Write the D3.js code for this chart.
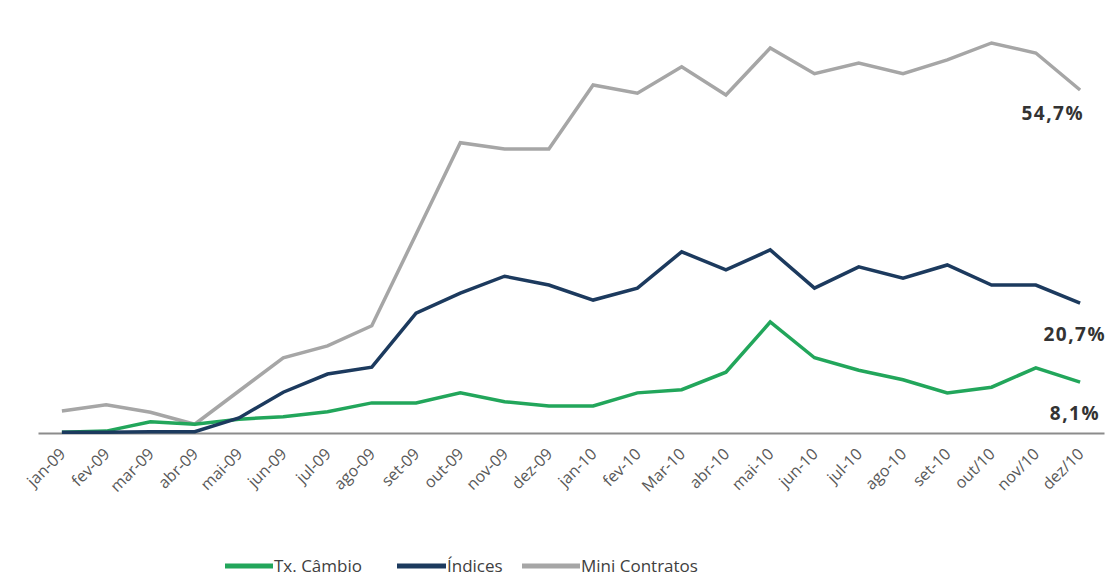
<!DOCTYPE html>
<html>
<head>
<meta charset="utf-8">
<script src="https://cdn.jsdelivr.net/npm/d3@7"></script>
<style>
  body { margin: 0; background: #ffffff; }
  svg { display: block; }
</style>
</head>
<body>
<svg id="chart" width="1107" height="580"></svg>
<script>
// Monthly share (%) of each mini-contract group, jan-09 to dez/10
const months = ["jan-09","fev-09","mar-09","abr-09","mai-09","jun-09","jul-09","ago-09","set-09","out-09","nov-09","dez-09",
                "jan-10","fev-10","Mar-10","abr-10","mai-10","jun-10","jul-10","ago-10","set-10","out/10","nov/10","dez/10"];

const txCambio = [0.1, 0.3, 1.8, 1.4, 2.2, 2.6, 3.4, 4.8, 4.8, 6.4, 5.0, 4.3,
                  4.3, 6.4, 6.9, 9.7, 17.7, 12.0, 10.0, 8.5, 6.4, 7.3, 10.4, 8.1];

const indices = [0.1, 0.1, 0.2, 0.2, 2.4, 6.5, 9.4, 10.5, 19.1, 22.3, 25.0, 23.6,
                 21.2, 23.1, 28.9, 26.0, 29.2, 23.1, 26.5, 24.7, 26.8, 23.6, 23.6, 20.7];

const miniContratos = [3.5, 4.5, 3.3, 1.4, 6.7, 12.0, 13.9, 17.1, 31.7, 46.3, 45.3, 45.3,
                       55.5, 54.2, 58.4, 53.9, 61.4, 57.3, 59.0, 57.3, 59.5, 62.2, 60.6, 54.7];

const seriesNames = ["Tx. Câmbio", "Índices", "Mini Contratos"];
const endLabels = ["8,1%", "20,7%", "54,7%"];

const colors = { "Tx. Câmbio": "#22a65b", "Índices": "#1c3a5e", "Mini Contratos": "#a6a6a6" };

// draw order: grey underneath, navy on top; dx/dy place the end label
const series = [
  { name: seriesNames[2], values: miniContratos, label: endLabels[2], dx: 4,   dy: 30 },
  { name: seriesNames[0], values: txCambio,      label: endLabels[0], dx: 20,  dy: 38 },
  { name: seriesNames[1], values: indices,       label: endLabels[1], dx: 26,  dy: 38 }
];

const svg = d3.select("#chart");

const x = d3.scalePoint().domain(months).range([38, 1104]).padding(0.54);
const y = d3.scaleLinear().domain([0, 54.7]).range([433, 90]);

// category axis along the zero line
const xAxis = svg.append("g")
  .attr("transform", `translate(0,${y(0)})`)
  .call(d3.axisBottom(x).tickSize(0).tickPadding(0));
xAxis.select(".domain").attr("stroke", "#8c8c8c").attr("stroke-width", 2);
xAxis.selectAll(".tick text")
  .attr("font-family", "'Open Sans', sans-serif")
  .attr("font-size", 16)
  .attr("fill", "#595959")
  .attr("text-anchor", "end")
  .attr("dy", null)
  .attr("y", null)
  .attr("transform", "translate(4,22) rotate(-45)");

const line = d3.line()
  .x((d, i) => x(months[i]))
  .y(d => y(d));

svg.append("g").selectAll("path")
  .data(series)
  .join("path")
  .attr("d", d => line(d.values))
  .attr("fill", "none")
  .attr("stroke", d => colors[d.name])
  .attr("stroke-width", 3.5)
  .attr("stroke-linejoin", "miter");

// value labels beneath the last point of each line
const last = months.length - 1;
svg.append("g").selectAll("text")
  .data(series)
  .join("text")
  .attr("x", d => x(months[last]) + d.dx)
  .attr("y", d => y(d.values[last]) + d.dy)
  .attr("text-anchor", "end")
  .attr("font-family", "'Open Sans', sans-serif")
  .attr("font-weight", "bold")
  .attr("font-size", 19)
  .attr("letter-spacing", 1.5)
  .attr("fill", "#333333")
  .text(d => d.label);

// legend
const legendItems = [
  { name: seriesNames[0], x0: 225, x1: 273 },
  { name: seriesNames[1], x0: 397, x1: 446 },
  { name: seriesNames[2], x0: 522, x1: 580 }
];
const legend = svg.append("g").attr("transform", "translate(0,566)");
legend.selectAll("line")
  .data(legendItems)
  .join("line")
  .attr("x1", d => d.x0).attr("x2", d => d.x1)
  .attr("y1", 0).attr("y2", 0)
  .attr("stroke", d => colors[d.name])
  .attr("stroke-width", 5);
legend.selectAll("text")
  .data(legendItems)
  .join("text")
  .attr("x", d => d.x1 + 1)
  .attr("y", 6)
  .attr("font-family", "'Open Sans', sans-serif")
  .attr("font-size", 17)
  .attr("fill", "#404040")
  .text(d => d.name);
</script>
</body>
</html>
